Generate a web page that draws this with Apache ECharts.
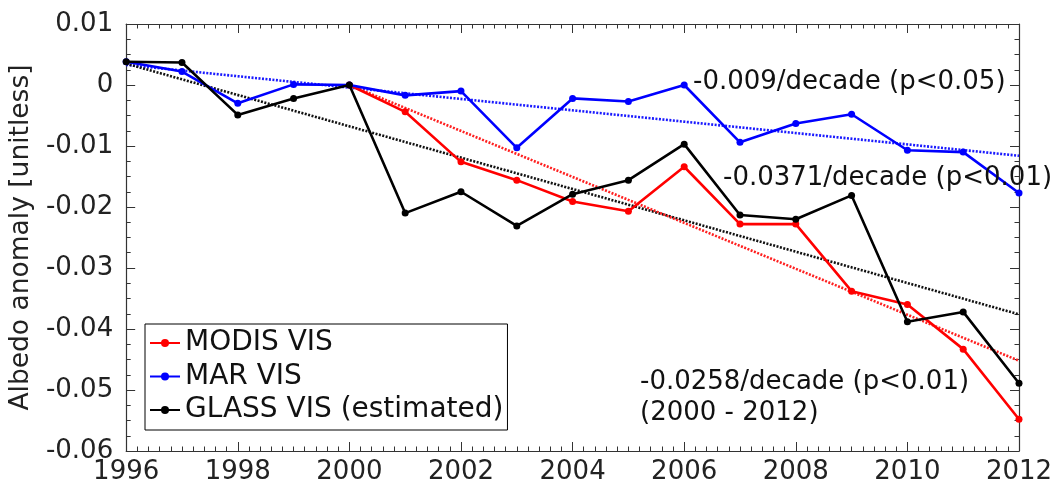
<!DOCTYPE html>
<html>
<head>
<meta charset="utf-8">
<script src="https://cdn.jsdelivr.net/npm/echarts@6/dist/echarts.min.js"></script>
<style>
html,body{margin:0;padding:0;background:#fff;}
#chart{width:1061px;height:493px;}
</style>
</head>
<body>
<div id="chart"></div>
<script>
var years = [1996,1997,1998,1999,2000,2001,2002,2003,2004,2005,2006,2007,2008,2009,2010,2011,2012];
var modisVIS = [null,null,null,null,0.0000,-0.0044,-0.0126,-0.0156,-0.0191,-0.0207,-0.0134,-0.0228,-0.0228,-0.0338,-0.0360,-0.0433,-0.0548];
var marVIS = [0.0038,0.0022,-0.0030,0.0001,0.0000,-0.0017,-0.0010,-0.0103,-0.0022,-0.0027,0.0000,-0.0094,-0.0063,-0.0048,-0.0107,-0.0110,-0.0177];
var glassVIS = [0.0038,0.0037,-0.0049,-0.0022,0.0000,-0.0210,-0.0175,-0.0231,-0.0179,-0.0156,-0.0097,-0.0213,-0.0220,-0.0181,-0.0388,-0.0372,-0.0489];
var trendYearsFull = [1996, 2012];
var trendYearsModis = [2000, 2012];
var marTrend = [0.0033, -0.0116];
var glassTrend = [0.0035, -0.0376];
var modisTrend = [0.0000, -0.0452];
var seriesNames = ['MODIS VIS', 'MAR VIS', 'GLASS VIS (estimated)'];
var annotations = ['-0.009/decade (p<0.05)', '-0.0371/decade (p<0.01)', '-0.0258/decade (p<0.01)\n(2000 - 2012)'];

function pairs(xs, ys){ var out=[]; for(var i=0;i<xs.length;i++){ out.push([xs[i], ys[i]]); } return out; }

var FONT = 'DejaVu Sans';
var AX = '#333';
var chart = echarts.init(document.getElementById('chart'));

function lineSeries(name, data, color, z){
  return {
    name: name, type: 'line', data: pairs(years, data), z: z,
    symbol: 'circle', symbolSize: 7, showSymbol: true,
    lineStyle: {color: color, width: 2.6},
    itemStyle: {color: color},
    connectNulls: false, animation: false
  };
}
function trendSeries(name, xs, ys, color, z){
  return {
    name: name, type: 'line', data: pairs(xs, ys), z: z,
    symbol: 'none', silent: true,
    lineStyle: {color: color, width: 2.6, type: [2, 1.5]},
    animation: false
  };
}

var axisCommon = {
  axisLine: {show: true, onZero: false, lineStyle: {color: AX, width: 1.2}},
  axisTick: {show: true, inside: true, length: 9, lineStyle: {color: AX, width: 1}},
  splitLine: {show: false},
  minorSplitLine: {show: false}
};

var option = {
  backgroundColor: '#fff',
  animation: false,
  grid: {left: 125, right: 42, top: 24, bottom: 42, containLabel: false},
  xAxis: [
    Object.assign({
      type: 'value', min: 1996, max: 2012, interval: 2, position: 'bottom',
      axisLabel: {fontFamily: FONT, fontSize: 26, color: '#222', margin: 8, formatter: function(v){ return String(v); }}
    }, axisCommon, {minorTick: {show: true, splitNumber: 10, length: 4.5, lineStyle: {color: AX, width: 1}}}),
    Object.assign({
      type: 'value', min: 1996, max: 2012, interval: 2, position: 'top',
      axisLabel: {show: false}
    }, axisCommon, {minorTick: {show: true, splitNumber: 10, length: 4.5, lineStyle: {color: AX, width: 1}}})
  ],
  yAxis: [
    Object.assign({
      type: 'value', min: -0.06, max: 0.01, interval: 0.01, position: 'left',
      name: 'Albedo anomaly [unitless]', nameLocation: 'middle', nameGap: 90, nameRotate: 90,
      nameTextStyle: {fontFamily: FONT, fontSize: 26.5, color: '#222'},
      axisLabel: {fontFamily: FONT, fontSize: 26, color: '#222', margin: 13,
        formatter: function(v){ return String(parseFloat(v.toFixed(2))); }}
    }, axisCommon, {minorTick: {show: true, splitNumber: 4, length: 4.5, lineStyle: {color: AX, width: 1}}}),
    Object.assign({
      type: 'value', min: -0.06, max: 0.01, interval: 0.01, position: 'right',
      axisLabel: {show: false}
    }, axisCommon, {minorTick: {show: true, splitNumber: 4, length: 4.5, lineStyle: {color: AX, width: 1}}})
  ],
  legend: {
    data: seriesNames,
    orient: 'vertical', left: 145, top: 324,
    itemWidth: 30, itemHeight: 10, itemGap: 5.5,
    padding: [5, 4, 6, 4],
    borderColor: '#000', borderWidth: 1, backgroundColor: '#fff',
    textStyle: {fontFamily: FONT, fontSize: 28, color: '#111'},
    selectedMode: false
  },
  series: [
    trendSeries('MAR trend', trendYearsFull, marTrend, '#1a1aff', 2),
    trendSeries('GLASS trend', trendYearsFull, glassTrend, '#111', 2),
    trendSeries('MODIS trend', trendYearsModis, modisTrend, '#ff2020', 2),
    lineSeries(seriesNames[0], modisVIS, '#ff0000', 3),
    lineSeries(seriesNames[1], marVIS, '#0000ff', 4),
    lineSeries(seriesNames[2], glassVIS, '#000000', 5)
  ],
  graphic: [
    {type: 'text', left: 693, top: 69, z: 10, style: {text: annotations[0], font: '26px "DejaVu Sans"', fill: '#111'}},
    {type: 'text', left: 723, top: 165, z: 10, style: {text: annotations[1], font: '26px "DejaVu Sans"', fill: '#111'}},
    {type: 'text', left: 640, top: 367, z: 10, style: {text: annotations[2], font: '26px "DejaVu Sans"', fill: '#111', lineHeight: 31}}
  ]
};
chart.setOption(option);
</script>
</body>
</html>
